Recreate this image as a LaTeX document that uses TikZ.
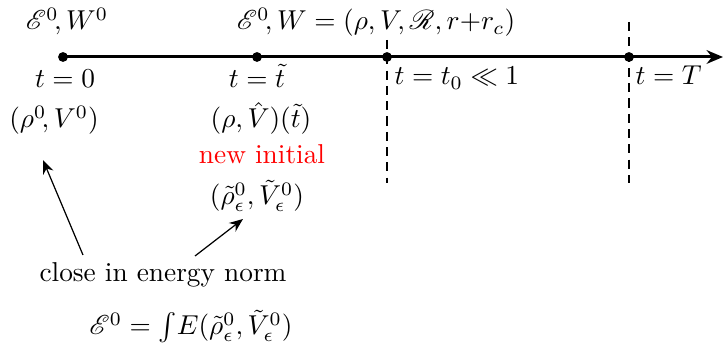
\documentclass[tikz,border=0pt]{standalone}
\usepackage{amsmath,amssymb,mathrsfs}
\usetikzlibrary{arrows.meta}
\begin{document}
\begin{tikzpicture}[x=0.366pt,y=-0.366pt,
  lbl/.style={anchor=base,inner sep=0pt},
  dot/.style={circle,fill=black,inner sep=0pt,minimum size=3.6pt},
  axis/.style={line width=1.1pt,-{Stealth[length=6pt,width=5pt]}},
  guide/.style={line width=0.75pt,dash pattern=on 3.3pt off 2.3pt},
  pointer/.style={line width=0.45pt,-{Stealth[length=5pt,width=4pt]}}]
\useasboundingbox (0,0) rectangle (724,344);
% axis
\coordinate (start) at (63,57);
\coordinate (end) at (723,57);
\draw[guide] (387,40) coordinate (g1t) -- (387,183) coordinate (g1b);
\draw[guide] (629,22) coordinate (g2t) -- (629,183) coordinate (g2b);
\draw[axis] (start) -- (end);
\node[dot] (d0) at (63,57) {};
\node[dot] (d1) at (257,57) {};
\node[dot] (d2) at (387,57) {};
\node[dot] (d3) at (629,57) {};
% labels
\node[lbl] (e0) at (67,30) {$\mathscr{E}^0\!,W^0$};
\node[lbl] (e1) at (376,30) {$\mathscr{E}^0\!,W=(\rho,V\!,\mathscr{R},r{+}r_c)$};
\node[lbl] (t0) at (65,88) {$t=0$};
\node[lbl] (rv0) at (54,128) {$(\rho^0\!,V^0)$};
\node[lbl] (tt) at (257,88) {$t=\tilde t$};
\node[lbl] (rvt) at (261,128) {$(\rho,\hat V)(\tilde t)$};
\node[lbl,text=red] (ni) at (262,164) {new initial};
\node[lbl] (rve) at (257,205) {$(\tilde\rho^0_\epsilon,\tilde V^0_\epsilon)$};
\node[lbl,anchor=base west] (tt0) at (394,85) {$t=t_0\ll 1$};
\node[lbl,anchor=base west] (tT) at (635,85) {$t=T$};
\node[lbl] (close) at (163,282) {close in energy norm};
\node[lbl] (en) at (191,335) {$\mathscr{E}^0=\int\! E(\tilde\rho^0_\epsilon,\tilde V^0_\epsilon)$};
% pointers
\coordinate (a1s) at (83,255);
\coordinate (a1e) at (43,160);
\coordinate (a2s) at (195,256);
\coordinate (a2e) at (243,219);
\draw[pointer] (a1s) -- (a1e);
\draw[pointer] (a2s) -- (a2e);
\end{tikzpicture}
\end{document}
